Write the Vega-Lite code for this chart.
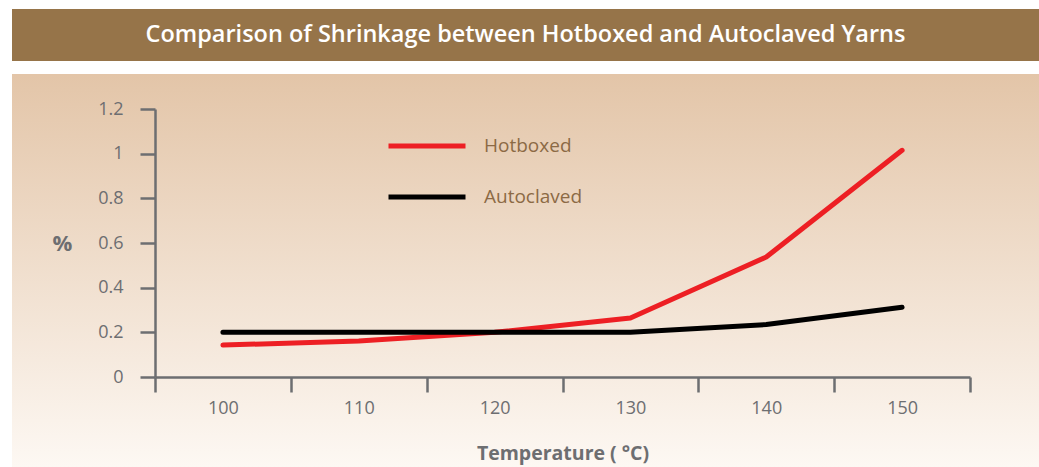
{
  "$schema": "https://vega.github.io/schema/vega-lite/v6.json",
  "background": "white",
  "padding": {"left": 12, "top": 9, "right": 0, "bottom": 0},
  "spacing": 13,
  "config": {"font": "Open Sans"},
  "vconcat": [
    {
      "width": 1027,
      "height": 52,
      "view": {"fill": "#967449", "stroke": null},
      "data": {"values": [{"t": "Comparison of Shrinkage between Hotboxed and Autoclaved Yarns"}]},
      "mark": {"type": "text", "color": "white", "font": "Open Sans", "fontWeight": 600, "fontSize": 23.5, "align": "center", "baseline": "middle"},
      "encoding": {"text": {"field": "t"}}
    },
    {
      "width": 1027,
      "height": 393,
      "view": {"stroke": null, "fill": {"gradient": "linear", "x1": 0, "y1": 0, "x2": 0, "y2": 1, "stops": [{"offset": 0, "color": "#e3c5a8"}, {"offset": 1, "color": "#fdf8f3"}]}},
      "data": {"values": [
        {"temp": "100", "series": "Hotboxed", "value": 0.143},
        {"temp": "110", "series": "Hotboxed", "value": 0.161},
        {"temp": "120", "series": "Hotboxed", "value": 0.2},
        {"temp": "130", "series": "Hotboxed", "value": 0.264},
        {"temp": "140", "series": "Hotboxed", "value": 0.537},
        {"temp": "150", "series": "Hotboxed", "value": 1.015},
        {"temp": "100", "series": "Autoclaved", "value": 0.2},
        {"temp": "110", "series": "Autoclaved", "value": 0.2},
        {"temp": "120", "series": "Autoclaved", "value": 0.2},
        {"temp": "130", "series": "Autoclaved", "value": 0.2},
        {"temp": "140", "series": "Autoclaved", "value": 0.235},
        {"temp": "150", "series": "Autoclaved", "value": 0.312}
      ]},
      "mark": {"type": "line", "strokeWidth": 5, "strokeCap": "round", "strokeJoin": "round"},
      "encoding": {
        "x": {
          "field": "temp", "type": "ordinal",
          "scale": {"range": [143, 958], "paddingInner": 0, "paddingOuter": 0},
          "axis": {
            "title": "Temperature ( °C)", "offset": -90, "labelAngle": 0,
            "tickBand": "extent", "tickSize": 15, "tickWidth": 2.5, "tickColor": "#6d6e71",
            "domainColor": "#6d6e71", "domainWidth": 2.5,
            "labelFont": "Open Sans", "labelFontSize": 18, "labelColor": "#6d6e71", "labelPadding": 7,
            "titleFont": "Open Sans", "titleFontSize": 19.5, "titleFontWeight": "bold", "titleColor": "#6d6e71", "titlePadding": 27
          }
        },
        "y": {
          "field": "value", "type": "quantitative",
          "scale": {"domain": [0, 1.2], "range": [303, 35], "nice": false, "zero": true},
          "axis": {
            "title": "%", "offset": -143, "values": [0, 0.2, 0.4, 0.6, 0.8, 1, 1.2], "format": "~g",
            "grid": false, "tickSize": 15, "tickWidth": 2.5, "tickColor": "#6d6e71",
            "domainColor": "#6d6e71", "domainWidth": 2.5,
            "labelFont": "Open Sans", "labelFontSize": 18, "labelColor": "#6d6e71", "labelPadding": 17,
            "titleFont": "Open Sans", "titleFontSize": 22, "titleFontWeight": "bold", "titleColor": "#6d6e71",
            "titleAngle": 0, "titleX": -93, "titleY": 169, "titleAlign": "center", "titleBaseline": "middle"
          }
        },
        "color": {
          "field": "series", "type": "nominal",
          "scale": {"domain": ["Hotboxed", "Autoclaved"], "range": ["#ed1f24", "#000000"]},
          "legend": {
            "title": null, "orient": "none", "legendX": 374, "legendY": 96,
            "symbolType": "stroke", "symbolSize": 5929, "symbolStrokeWidth": 5,
            "rowPadding": -30, "labelOffset": 16,
            "labelFont": "Open Sans", "labelFontSize": 19, "labelColor": "#8c6a45"
          }
        }
      }
    }
  ]
}
